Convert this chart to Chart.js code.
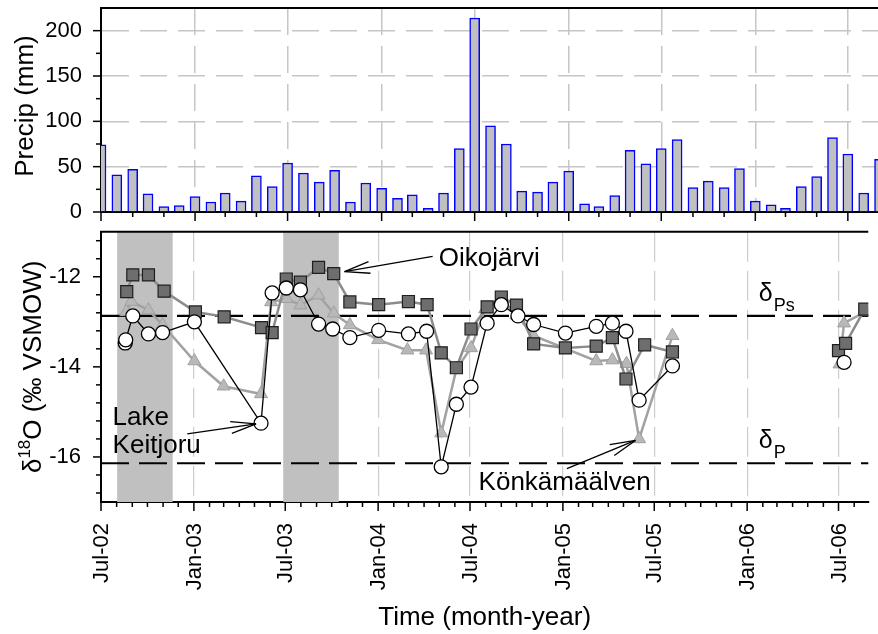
<!DOCTYPE html>
<html>
<head>
<meta charset="utf-8">
<script src="https://cdn.jsdelivr.net/npm/chart.js@4.4.1/dist/chart.umd.min.js"></script>
<style>
  html, body { margin: 0; padding: 0; background: #fff; overflow: hidden; }
  #wrap { position: relative; width: 878px; height: 634px; }
  #precipBox { position: absolute; left: 0; top: 0; }
  #isoBox { position: absolute; left: 0; top: 222px; }
</style>
</head>
<body>
<div id="wrap">
  <div id="precipBox"><canvas id="precipChart" width="878" height="222"></canvas></div>
  <div id="isoBox"><canvas id="isoChart" width="878" height="412"></canvas></div>
</div>
<script>
var FONT = '"Liberation Sans", Arial, Helvetica, sans-serif';

// monthly precipitation, Jul-02 .. Sep-06
var precipMonths = [
  '2002-07', '2002-08', '2002-09', '2002-10', '2002-11', '2002-12',
  '2003-01', '2003-02', '2003-03', '2003-04', '2003-05', '2003-06',
  '2003-07', '2003-08', '2003-09', '2003-10', '2003-11', '2003-12',
  '2004-01', '2004-02', '2004-03', '2004-04', '2004-05', '2004-06',
  '2004-07', '2004-08', '2004-09', '2004-10', '2004-11', '2004-12',
  '2005-01', '2005-02', '2005-03', '2005-04', '2005-05', '2005-06',
  '2005-07', '2005-08', '2005-09', '2005-10', '2005-11', '2005-12',
  '2006-01', '2006-02', '2006-03', '2006-04', '2006-05', '2006-06',
  '2006-07', '2006-08', '2006-09'
];
var precipValues = [
  74, 41, 47, 20, 6, 7,
  17, 11, 21, 12, 40, 28,
  54, 43, 33, 46, 11, 32,
  26, 15, 19, 4, 21, 70,
  214, 95, 75, 23, 22, 33,
  45, 9, 6, 18, 68, 53,
  70, 80, 27, 34, 27, 48,
  12, 8, 4, 28, 39, 82,
  64, 21, 58
];

// d18O samples (null = break in the record)
var keitjoruDates = [
  '2002-08-18', '2002-08-19', '2002-09-02', '2002-10-03', '2002-10-31', '2003-01-02',
  '2003-05-14', '2003-06-05', '2003-07-03', '2003-07-31', '2003-09-05', '2003-10-03',
  '2003-11-06', '2004-01-02', '2004-03-01', '2004-04-06', '2004-05-05', '2004-06-04',
  '2004-07-03', '2004-08-04', '2004-09-01', '2004-10-04', '2004-11-04', '2005-01-06',
  '2005-03-08', '2005-04-09', '2005-05-06', '2005-06-01', '2005-08-06', '2006-01-01',
  '2006-07-12'
];
var keitjoruValues = [
  -13.47, -13.40, -12.87, -13.27, -13.24, -13.00,
  -15.25, -12.36, -12.25, -12.29, -13.05, -13.16,
  -13.35, -13.19, -13.27, -13.21, -16.22, -14.83,
  -14.45, -13.03, -12.62, -12.87, -13.06, -13.25,
  -13.10, -13.03, -13.21, -14.74, -13.98, null,
  -13.90
];

var oikoDates = [
  '2002-08-21', '2002-09-02', '2002-10-03', '2002-11-03', '2003-01-04', '2003-03-02',
  '2003-05-15', '2003-06-05', '2003-07-03', '2003-07-31', '2003-09-05', '2003-10-05',
  '2003-11-06', '2004-01-02', '2004-03-01', '2004-04-07', '2004-05-05', '2004-06-04',
  '2004-07-03', '2004-08-04', '2004-09-01', '2004-10-01', '2004-11-04', '2005-01-06',
  '2005-03-08', '2005-04-09', '2005-05-06', '2005-06-12', '2005-08-06', '2006-01-01',
  '2006-07-01', '2006-07-15', '2006-08-22'
];
var oikoValues = [
  -12.33, -11.96, -11.96, -12.32, -12.78, -12.89,
  -13.13, -13.24, -12.05, -12.12, -11.79, -11.93,
  -12.56, -12.62, -12.55, -12.62, -13.69, -14.02,
  -13.16, -12.67, -12.45, -12.63, -13.49, -13.58,
  -13.54, -13.35, -14.27, -13.51, -13.67, null,
  -13.64, -13.48, -12.72
];

var konkaDates = [
  '2002-08-20', '2002-08-30', '2002-10-03', '2002-10-31', '2003-01-02', '2003-03-01',
  '2003-05-14', '2003-06-03', '2003-07-04', '2003-07-31', '2003-09-05', '2003-10-05',
  '2003-11-06', '2004-01-01', '2004-02-28', '2004-04-05', '2004-05-05', '2004-06-04',
  '2004-07-03', '2004-07-31', '2004-09-01', '2004-10-01', '2004-11-04', '2005-03-08',
  '2005-04-09', '2005-05-07', '2005-06-01', '2005-08-06', '2006-01-01', '2006-07-03',
  '2006-07-12', '2006-08-23'
];
var konkaValues = [
  -12.78, -12.55, -12.74, -13.07, -13.87, -14.43,
  -14.60, -12.56, -12.49, -12.63, -12.41, -12.81,
  -13.07, -13.40, -13.63, -13.63, -15.47, -14.05,
  -13.58, -12.72, -12.49, -12.85, -13.31, -13.87,
  -13.85, -13.93, -15.60, -13.31, null, -13.94,
  -13.03, -12.78
];

// reference levels and shaded periods
var deltaPs = -12.87;
var deltaP = -16.14;
var shadedPeriods = [['2002-08-02', '2002-11-20'], ['2003-06-27', '2003-10-15']];

// axes
var tickMonths = ['2002-07', '2003-01', '2003-07', '2004-01', '2004-07', '2005-01', '2005-07', '2006-01', '2006-07'];
var tickLabels = ['Jul-02', 'Jan-03', 'Jul-03', 'Jan-04', 'Jul-04', 'Jan-05', 'Jul-05', 'Jan-06', 'Jul-06'];
var precipTicks = [0, 50, 100, 150, 200];
var isoTicks = [-12, -14, -16];

function dayNum(s) {
  var p = s.split('-').map(Number);
  return (Date.UTC(p[0], p[1] - 1, p[2] || 1) - Date.UTC(2002, 6, 1)) / 86400000;
}

var xMin = 0;
var xMax = dayNum('2006-08-29');

function points(dates, values) {
  return dates.map(function (d, i) { return { x: dayNum(d), y: values[i] }; });
}

function allMonths(step) {
  var out = [];
  for (var y = 2002, m = 7; ; m += step) {
    if (m > 12) { m -= 12; y++; }
    var s = y + '-' + (m < 10 ? '0' : '') + m;
    if (dayNum(s) > xMax) break;
    out.push(s);
  }
  return out;
}

function line(ctx, x1, y1, x2, y2) {
  ctx.beginPath();
  ctx.moveTo(x1, y1);
  ctx.lineTo(x2, y2);
  ctx.stroke();
}

function arrow(ctx, x1, y1, x2, y2) {
  var a = Math.atan2(y2 - y1, x2 - x1), len = 26, spread = 0.23;
  line(ctx, x1, y1, x2, y2);
  line(ctx, x2, y2, x2 - len * Math.cos(a - spread), y2 - len * Math.sin(a - spread));
  line(ctx, x2, y2, x2 - len * Math.cos(a + spread), y2 - len * Math.sin(a + spread));
}

function drawXTicks(chart, step) {
  var ctx = chart.ctx, xs = chart.scales.x, area = chart.chartArea;
  ctx.save();
  ctx.strokeStyle = '#000';
  ctx.lineWidth = 1.5;
  allMonths(step).forEach(function (m) {
    var x = xs.getPixelForValue(dayNum(m));
    var major = tickMonths.indexOf(m) >= 0;
    line(ctx, x, area.bottom, x, area.bottom + (major ? 9 : 5));
  });
  ctx.restore();
}

function drawYTicks(chart, values, majors) {
  var ctx = chart.ctx, ys = chart.scales.y, area = chart.chartArea;
  ctx.save();
  ctx.strokeStyle = '#000';
  ctx.lineWidth = 1.5;
  values.forEach(function (v) {
    var y = ys.getPixelForValue(v);
    var major = majors.some(function (t) { return Math.abs(t - v) < 1e-6; });
    line(ctx, area.left, y, area.left - (major ? 8 : 5), y);
  });
  ctx.restore();
}

function drawTopBorder(chart) {
  var ctx = chart.ctx, area = chart.chartArea;
  ctx.save();
  ctx.strokeStyle = '#000';
  ctx.lineWidth = 2;
  line(ctx, area.left - 1, area.top, area.right, area.top);
  ctx.restore();
}

var precipDecor = {
  id: 'precipDecor',
  afterDraw: function (chart) {
    var ctx = chart.ctx;
    drawTopBorder(chart);
    drawXTicks(chart, 2);
    var minor = [];
    for (var v = 0; v <= 200; v += 25) minor.push(v);
    drawYTicks(chart, minor, precipTicks);

    ctx.save();
    ctx.translate(33, 106);
    ctx.rotate(-Math.PI / 2);
    ctx.font = '26px ' + FONT;
    ctx.fillStyle = '#000';
    ctx.textAlign = 'center';
    ctx.textBaseline = 'alphabetic';
    ctx.fillText('Precip (mm)', 0, 0);
    ctx.restore();
  }
};

var isoDecor = {
  id: 'isoDecor',
  beforeDatasetsDraw: function (chart) {
    var ctx = chart.ctx, xs = chart.scales.x, ys = chart.scales.y, area = chart.chartArea;
    ctx.save();
    ctx.fillStyle = '#c0c0c0';
    shadedPeriods.forEach(function (p) {
      var x1 = xs.getPixelForValue(dayNum(p[0])), x2 = xs.getPixelForValue(dayNum(p[1]));
      ctx.fillRect(x1, area.top, x2 - x1, area.bottom - area.top);
    });
    ctx.strokeStyle = '#000';
    ctx.lineWidth = 2.2;
    ctx.setLineDash([28, 10]);
    [deltaPs, deltaP].forEach(function (v) {
      var y = ys.getPixelForValue(v);
      line(ctx, area.left, y, area.right, y);
    });
    ctx.restore();
  },
  afterDraw: function (chart) {
    var ctx = chart.ctx, xs = chart.scales.x, ys = chart.scales.y, area = chart.chartArea;
    drawTopBorder(chart);
    drawXTicks(chart, 1);
    var minor = [];
    for (var k = -42; k <= -28; k++) minor.push(Math.round(k * 0.4 * 10) / 10);
    drawYTicks(chart, minor, isoTicks);

    ctx.save();
    ctx.fillStyle = '#000';

    // month labels
    ctx.font = '22px ' + FONT;
    ctx.textAlign = 'right';
    ctx.textBaseline = 'middle';
    tickMonths.forEach(function (m, i) {
      ctx.save();
      ctx.translate(xs.getPixelForValue(dayNum(m)) + 1, area.bottom + 21);
      ctx.rotate(-Math.PI / 2);
      ctx.fillText(tickLabels[i], 0, 0);
      ctx.restore();
    });

    // axis titles
    ctx.font = '26px ' + FONT;
    ctx.textAlign = 'center';
    ctx.textBaseline = 'alphabetic';
    ctx.fillText('Time (month-year)', (area.left + area.right) / 2, area.bottom + 123);

    ctx.save();
    ctx.translate(41, (area.top + area.bottom) / 2);
    ctx.rotate(-Math.PI / 2);
    ctx.textAlign = 'left';
    var big = '26px ' + FONT, small = '17px ' + FONT;
    ctx.font = big;
    var w1 = ctx.measureText('\u03b4').width, w3 = ctx.measureText('O (\u2030 VSMOW)').width;
    ctx.font = small;
    var w2 = ctx.measureText('18').width;
    var x = -(w1 + w2 + w3) / 2;
    ctx.font = big; ctx.fillText('\u03b4', x, 0); x += w1;
    ctx.font = small; ctx.fillText('18', x, -11); x += w2;
    ctx.font = big; ctx.fillText('O (\u2030 VSMOW)', x, 0);
    ctx.restore();

    // reference level labels
    var lx = xs.getPixelForValue(dayNum('2006-01-24'));
    [[deltaPs, 'Ps'], [deltaP, 'P']].forEach(function (r) {
      var y = ys.getPixelForValue(r[0]);
      ctx.textAlign = 'left';
      ctx.font = '25px ' + FONT;
      ctx.fillText('\u03b4', lx, y - 15);
      var w = ctx.measureText('\u03b4').width;
      ctx.font = '18px ' + FONT;
      ctx.fillText(r[1], lx + w + 1, y - 5);
    });

    // site labels with arrows
    var series = { keitjoru: [keitjoruDates, keitjoruValues], oiko: [oikoDates, oikoValues], konka: [konkaDates, konkaValues] };
    var notes = [
      { text: ['Oikoj\u00e4rvi'], at: ['2004-04-30', -11.77], tail: ['2004-04-18', -11.55], site: 'oiko', index: 11, gap: 11 },
      { text: ['Lake', 'Keitjoru'], at: ['2002-07-24', -15.30], tail: ['2002-12-19', -15.49], site: 'keitjoru', index: 6, gap: 5 },
      { text: ['K\u00f6nk\u00e4m\u00e4\u00e4lven'], at: ['2004-07-18', -16.74], tail: ['2005-01-09', -16.26], site: 'konka', index: 26, gap: 4 }
    ];
    ctx.font = '26px ' + FONT;
    ctx.textAlign = 'left';
    ctx.strokeStyle = '#000';
    ctx.lineWidth = 1.3;
    notes.forEach(function (n) {
      var tx = xs.getPixelForValue(dayNum(n.at[0])), ty = ys.getPixelForValue(n.at[1]);
      n.text.forEach(function (t, i) { ctx.fillText(t, tx, ty + i * 28); });
      var s = series[n.site];
      var px = xs.getPixelForValue(dayNum(s[0][n.index])), py = ys.getPixelForValue(s[1][n.index]);
      var ax = xs.getPixelForValue(dayNum(n.tail[0])), ay = ys.getPixelForValue(n.tail[1]);
      var d = Math.hypot(px - ax, py - ay);
      arrow(ctx, ax, ay, px - (px - ax) * n.gap / d, py - (py - ay) * n.gap / d);
    });
    ctx.restore();
  }
};

function fixYAxis(scale) {
  scale.width = 101;
  scale.paddingTop = 0;
  scale.paddingBottom = 0;
}

function fixXAxis(scale) {
  scale.height = 0;
  scale.paddingLeft = 0;
  scale.paddingRight = 0;
}

function monthTicks(scale) {
  scale.ticks = tickMonths.map(function (m) { return { value: dayNum(m) }; });
}

new Chart(document.getElementById('precipChart'), {
  type: 'bar',
  data: {
    datasets: [{
      label: 'Precip',
      data: points(precipMonths, precipValues),
      backgroundColor: '#c0c0c0',
      borderColor: '#0000ff',
      borderWidth: 1.5,
      barThickness: 10,
      clip: 0
    }]
  },
  options: {
    responsive: false,
    animation: false,
    devicePixelRatio: 1,
    events: [],
    layout: { padding: { top: 8, bottom: 10, left: 0, right: 0 } },
    plugins: { legend: { display: false }, tooltip: { enabled: false } },
    scales: {
      x: {
        type: 'linear', min: xMin, max: xMax, offset: false,
        afterBuildTicks: monthTicks,
        afterFit: fixXAxis,
        ticks: { display: false },
        grid: { color: '#c6c6c6', lineWidth: 1.5, drawTicks: false, offset: false },
        border: { display: true, color: '#000', width: 2, dash: [27, 11] }
      },
      y: {
        min: 0, max: 225,
        afterBuildTicks: function (scale) { scale.ticks = precipTicks.map(function (v) { return { value: v }; }); },
        afterFit: fixYAxis,
        ticks: { color: '#000', font: { family: FONT, size: 22 }, padding: 19 },
        grid: {
          color: function (c) { return c.tick && c.tick.value === 0 ? 'rgba(0,0,0,0)' : '#c6c6c6'; },
          lineWidth: 1.5, drawTicks: false
        },
        border: { display: true, color: '#000', width: 2, dash: [27, 11] }
      }
    }
  },
  plugins: [precipDecor]
});

new Chart(document.getElementById('isoChart'), {
  type: 'line',
  data: {
    datasets: [{
      label: 'Lake Keitjoru',
      data: points(keitjoruDates, keitjoruValues),
      borderColor: '#000', borderWidth: 1.3,
      pointStyle: 'circle', pointRadius: 7,
      pointBackgroundColor: '#fff', pointBorderColor: '#000', pointBorderWidth: 1.3,
      order: 1
    }, {
      label: 'Oikoj\u00e4rvi',
      data: points(oikoDates, oikoValues),
      borderColor: '#8c8c8c', borderWidth: 2.5,
      pointStyle: 'rect', pointRadius: 8.5,
      pointBackgroundColor: '#6e6e6e', pointBorderColor: '#1e1e1e', pointBorderWidth: 1.2,
      order: 2
    }, {
      label: 'K\u00f6nk\u00e4m\u00e4\u00e4lven',
      data: points(konkaDates, konkaValues),
      borderColor: '#a2a2a2', borderWidth: 2.5,
      pointStyle: 'triangle', pointRadius: 7.5,
      pointBackgroundColor: '#b8b8b8', pointBorderColor: '#a0a0a0', pointBorderWidth: 1,
      order: 3
    }]
  },
  options: {
    responsive: false,
    animation: false,
    devicePixelRatio: 1,
    events: [],
    spanGaps: false,
    elements: { line: { tension: 0 } },
    layout: { padding: { top: 4, bottom: 132, left: 0, right: 0 } },
    plugins: { legend: { display: false }, tooltip: { enabled: false } },
    scales: {
      x: {
        type: 'linear', min: xMin, max: xMax,
        afterBuildTicks: monthTicks,
        afterFit: fixXAxis,
        ticks: { display: false },
        grid: { color: '#cccccc', lineWidth: 1.2, drawTicks: false },
        border: { display: true, color: '#000', width: 2, dash: [30, 9] }
      },
      y: {
        min: -17, max: -11,
        afterBuildTicks: function (scale) { scale.ticks = isoTicks.map(function (v) { return { value: v }; }); },
        afterFit: fixYAxis,
        ticks: { color: '#000', font: { family: FONT, size: 22 }, padding: 20 },
        grid: { display: false, drawTicks: false },
        border: { display: true, color: '#000', width: 2 }
      }
    }
  },
  plugins: [isoDecor]
});
</script>
</body>
</html>
